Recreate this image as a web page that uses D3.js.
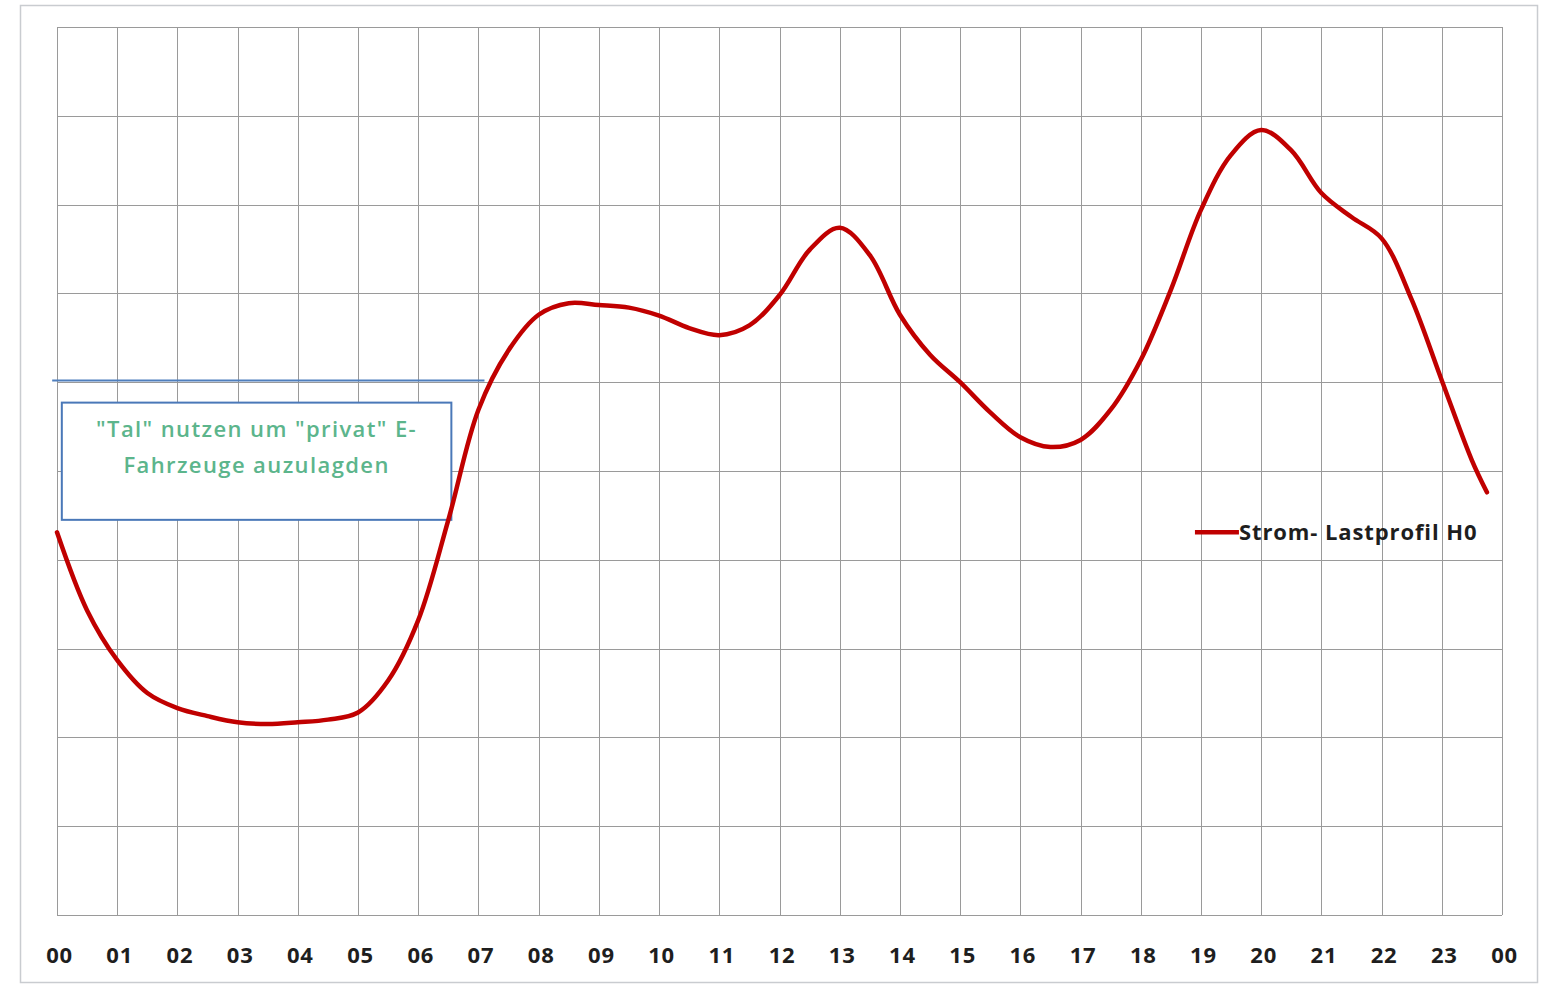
<!DOCTYPE html>
<html>
<head>
<meta charset="utf-8">
<script src="https://cdn.jsdelivr.net/npm/d3@7"></script>
<style>
  html, body { margin: 0; padding: 0; background: #fff; }
  svg { display: block; }
</style>
</head>
<body>
<svg id="chart" width="1543" height="985"></svg>
<script>
// Hour ticks along the x axis
const hourLabels = ["00","01","02","03","04","05","06","07","08","09","10","11",
                    "12","13","14","15","16","17","18","19","20","21","22","23","00"];

// Load profile H0 sampled every half hour (relative units, 0–10)
const hours = [0,0.5,1,1.5,2,2.5,3,3.5,4,4.5,5,5.5,6,6.5,7,7.5,8,8.5,9,9.5,10,10.5,11,11.5,
               12,12.5,13,13.5,14,14.5,15,15.5,16,16.5,17,17.5,18,18.5,19,19.5,20,20.5,21,21.5,
               22,22.5,23,23.5,23.75];
const load  = [4.31,3.43,2.87,2.50,2.33,2.24,2.17,2.15,2.17,2.20,2.28,2.64,3.32,4.45,5.69,6.36,
               6.76,6.89,6.87,6.84,6.75,6.61,6.53,6.64,6.98,7.49,7.74,7.43,6.76,6.31,6.00,5.66,
               5.38,5.27,5.35,5.69,6.25,7.04,7.94,8.56,8.84,8.61,8.13,7.86,7.62,6.93,6.02,5.12,4.76];

const seriesName = "Strom- Lastprofil H0";
const noteLines = ["\"Tal\" nutzen um \"privat\" E-", "Fahrzeuge auzulagden"];

const svg = d3.select("#chart");
const margin = { left: 57, top: 27, right: 41, bottom: 70 };
const W = 1543, H = 985;

const x = d3.scaleLinear().domain([0, 24]).range([margin.left, W - margin.right]);
const y = d3.scaleLinear().domain([0, 10]).range([H - margin.bottom, margin.top]);

// outer chart frame
svg.append("rect")
  .attr("x", 20.5).attr("y", 5.5).attr("width", 1517).attr("height", 977)
  .attr("fill", "#fff").attr("stroke", "#c9ccd0").attr("stroke-width", 1.5);

// grid
const grid = svg.append("g").attr("stroke", "#9a9a9a").attr("stroke-width", 1);
grid.selectAll("line.v").data(d3.range(0, 25)).join("line")
  .attr("x1", d => Math.round(x(d)) + 0.5).attr("x2", d => Math.round(x(d)) + 0.5)
  .attr("y1", y(10)).attr("y2", y(0));
grid.selectAll("line.h").data(d3.range(0, 11)).join("line")
  .attr("y1", d => Math.round(y(d)) + 0.5).attr("y2", d => Math.round(y(d)) + 0.5)
  .attr("x1", x(0)).attr("x2", x(24));

// x axis labels
const xAxis = d3.axisBottom(x).tickValues(d3.range(0, 25))
  .tickFormat((d, i) => hourLabels[i]).tickSize(0).tickPadding(32);
const gx = svg.append("g").attr("transform", `translate(0,${y(0)})`).call(xAxis);
gx.select(".domain").remove();
gx.selectAll("text")
  .attr("font-family", "'Open Sans', 'DejaVu Sans', sans-serif")
  .attr("font-weight", 700).attr("font-size", 22).attr("fill", "#1e1e1e")
  .attr("letter-spacing", 0.8).attr("dx", 2);

// threshold line
svg.append("line")
  .attr("x1", x(-0.08)).attr("x2", x(7.1))
  .attr("y1", y(6.02)).attr("y2", y(6.02))
  .attr("stroke", "#4f7fbd").attr("stroke-width", 2);

// annotation box
const bx0 = x(0.08), bx1 = x(6.55), by0 = y(5.77), by1 = y(4.45);
svg.append("rect")
  .attr("x", bx0).attr("y", by0).attr("width", bx1 - bx0).attr("height", by1 - by0)
  .attr("fill", "#fff").attr("stroke", "#4a78b8").attr("stroke-width", 2);
svg.append("g").selectAll("text").data(noteLines).join("text")
  .attr("x", (bx0 + bx1) / 2)
  .attr("y", (d, i) => by0 + 34 + i * 36)
  .attr("text-anchor", "middle")
  .attr("font-family", "'Open Sans', 'DejaVu Sans', sans-serif")
  .attr("font-weight", 600).attr("font-size", 22).attr("fill", "#5cb58c")
  .attr("letter-spacing", 1.4)
  .text(d => d);

// load curve
const line = d3.line().x((d, i) => x(hours[i])).y(d => y(d)).curve(d3.curveCatmullRom.alpha(0.5));
svg.append("path").datum(load)
  .attr("d", line).attr("fill", "none")
  .attr("stroke", "#c00000").attr("stroke-width", 4.5)
  .attr("stroke-linecap", "round").attr("stroke-linejoin", "round");

// legend
const lg = svg.append("g").attr("transform", `translate(${x(18.9)},${y(4.31)})`);
lg.append("line").attr("x1", 0).attr("x2", 44).attr("y1", 0).attr("y2", 0)
  .attr("stroke", "#c00000").attr("stroke-width", 4.5);
lg.append("text").attr("x", 44).attr("y", 8)
  .attr("font-family", "'Open Sans', 'DejaVu Sans', sans-serif")
  .attr("font-weight", 700).attr("font-size", 22).attr("fill", "#1e1e1e")
  .attr("letter-spacing", 0.9)
  .text(seriesName);
</script>
</body>
</html>
